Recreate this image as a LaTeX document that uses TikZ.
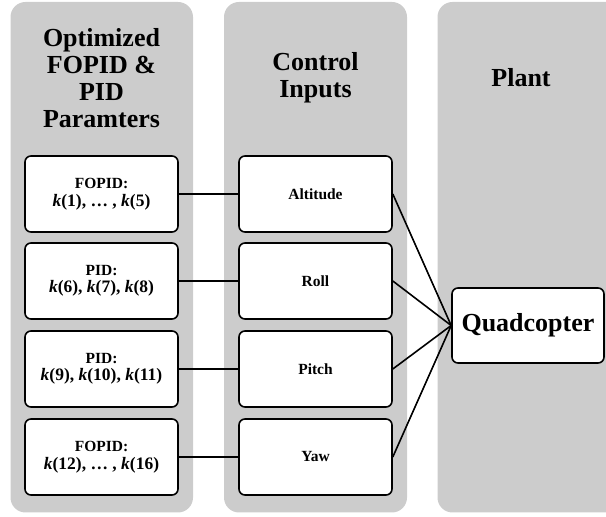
\documentclass[tikz,border=0pt]{standalone}
\usepackage{fontspec}
\setmainfont{Liberation Serif}[BoldFont={Liberation Serif Bold},BoldItalicFont={Liberation Serif Bold Italic}]
\usepackage{xcolor}
\usepackage{tikz}

\definecolor{panelgray}{gray}{0.8}
\newcommand{\kpar}[1]{\textit{k}(#1)}
\newcommand{\kline}[1]{{\fontsize{17.5}{18}\selectfont #1}}

\begin{document}
\begin{tikzpicture}[x=1pt,y=1pt,
  panel/.style={fill=panelgray,rounded corners=15pt},
  title/.style={align=center,font=\fontsize{26}{27}\selectfont\bfseries},
  param/.style={draw,fill=white,rounded corners=6pt,line width=1.6pt,minimum width=153pt,minimum height=76pt,align=center,font=\fontsize{15.5}{17.5}\selectfont\bfseries},
  ctrl/.style={param},
  plant/.style={draw,fill=white,rounded corners=6pt,line width=1.6pt,minimum width=152pt,minimum height=75pt,font=\fontsize{26}{27}\selectfont\bfseries},
  link/.style={line width=1.6pt}]
  \useasboundingbox (0,0) rectangle (606,517);
  \clip (0,0) rectangle (606,517);
  % background panels
  \fill[panel] (10.5,4.5) rectangle (193,515);
  \fill[panel] (224,4.5) rectangle (407,515);
  \fill[panel] (437.5,4.5) rectangle (622,515);
  % headings
  \node[title] (t1) at (101.5,439) {Optimized\\FOPID \&\\PID\\Paramters};
  \node[title] (t2) at (315.5,439) {Control\\Inputs};
  \node[title] (t3) at (521,439) {Plant};
  % parameter boxes
  \node[param] (p1) at (101.5,323) {FOPID:\\\kline{\kpar{1}, … , \kpar{5}}};
  \node[param] (p2) at (101.5,236) {PID:\\\kline{\kpar{6}, \kpar{7}, \kpar{8}}};
  \node[param] (p3) at (101.5,148) {PID:\\\kline{\kpar{9}, \kpar{10}, \kpar{11}}};
  \node[param] (p4) at (101.5,60) {FOPID:\\\kline{\kpar{12}, … , \kpar{16}}};
  % control inputs
  \node[ctrl] (c1) at (315.5,323) {Altitude};
  \node[ctrl] (c2) at (315.5,236) {Roll};
  \node[ctrl] (c3) at (315.5,148) {Pitch};
  \node[ctrl] (c4) at (315.5,60) {Yaw};
  % plant
  \node[plant] (q) at (528,191.5) {Quadcopter};
  \draw[link] (p1) -- (c1);
  \draw[link] (p2) -- (c2);
  \draw[link] (p3) -- (c3);
  \draw[link] (p4) -- (c4);
  \draw[link] (c1.east) -- (q.west);
  \draw[link] (c2.east) -- (q.west);
  \draw[link] (c3.east) -- (q.west);
  \draw[link] (c4.east) -- (q.west);
\end{tikzpicture}
\end{document}
